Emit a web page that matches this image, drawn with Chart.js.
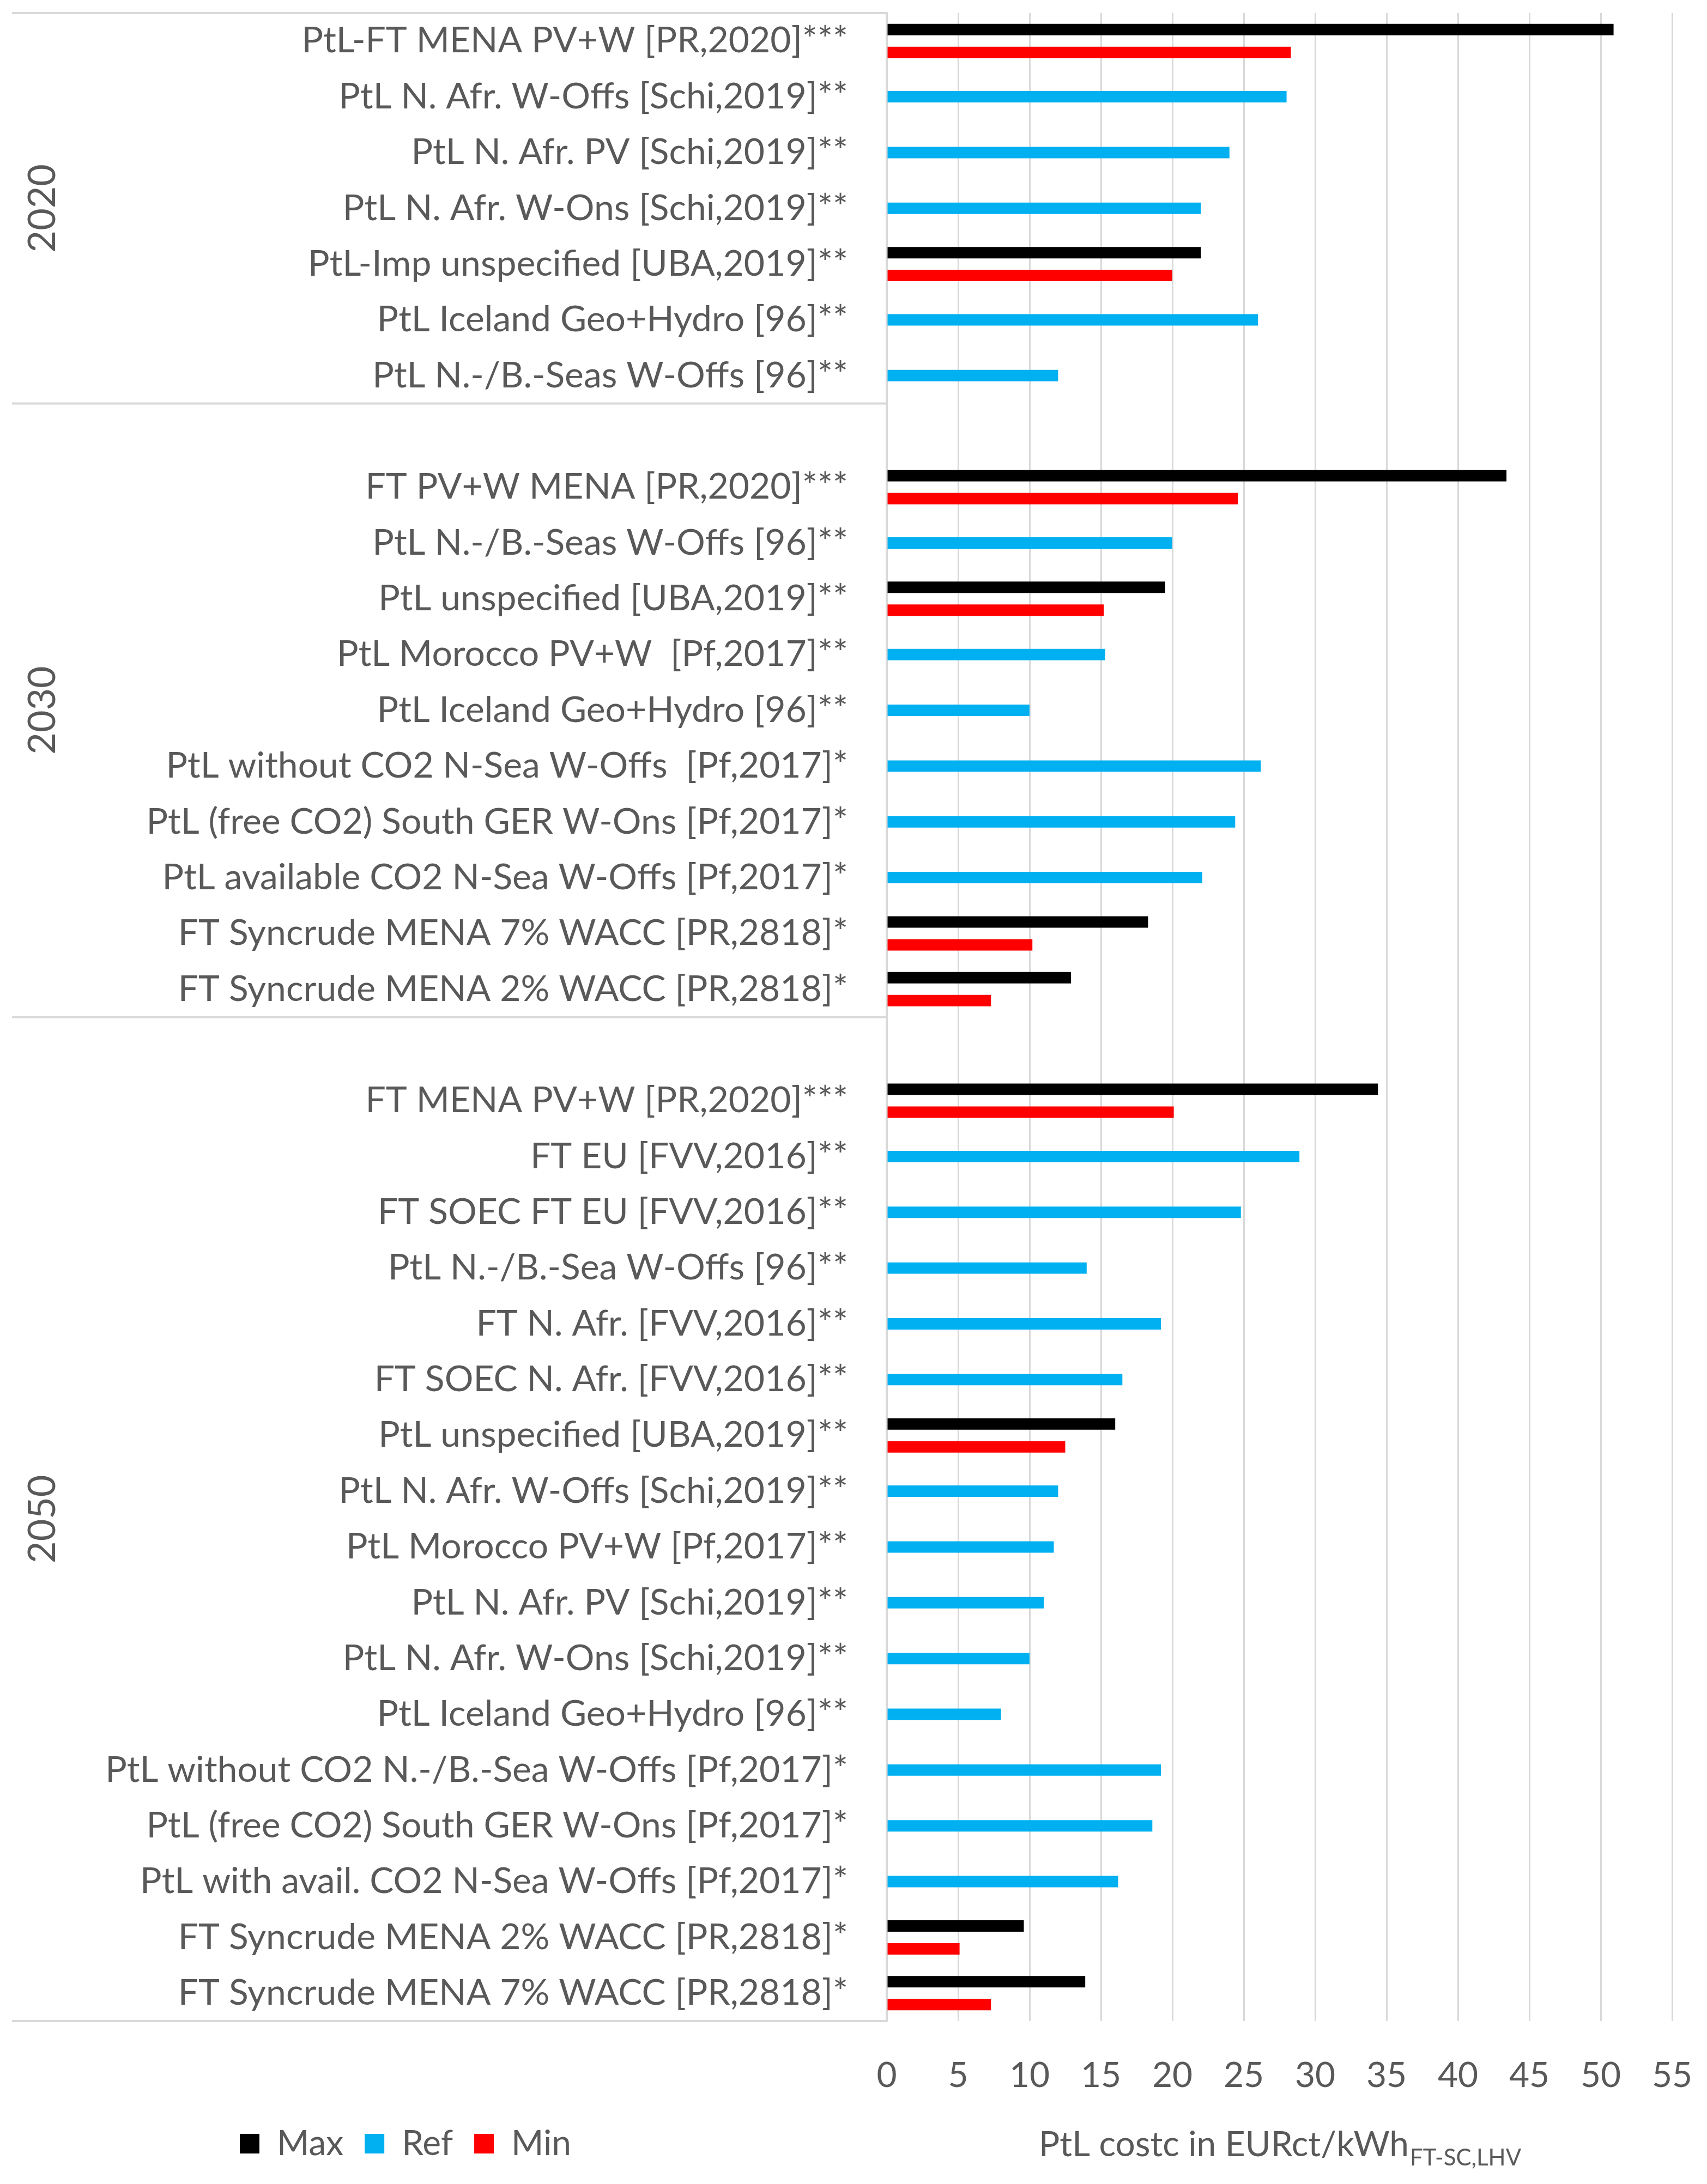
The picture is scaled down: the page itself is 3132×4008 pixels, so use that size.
<!DOCTYPE html>
<html><head><meta charset="utf-8">
<script src="https://cdn.jsdelivr.net/npm/chart.js@4"></script>
<style>html,body{margin:0;padding:0;background:#fff;}#wrap{width:3132px;height:4008px;}</style>
</head><body><div id="wrap"><canvas id="c" width="3132" height="4008"></canvas></div>
<script>
const categories = [
 'PtL-FT MENA PV+W [PR,2020]***',
 'PtL N. Afr. W-Offs [Schi,2019]**',
 'PtL N. Afr. PV [Schi,2019]**',
 'PtL N. Afr. W-Ons [Schi,2019]**',
 'PtL-Imp unspecified [UBA,2019]**',
 'PtL Iceland Geo+Hydro [96]**',
 'PtL N.-/B.-Seas W-Offs [96]**',
 '',
 'FT PV+W MENA [PR,2020]***',
 'PtL N.-/B.-Seas W-Offs [96]**',
 'PtL unspecified [UBA,2019]**',
 'PtL Morocco PV+W  [Pf,2017]**',
 'PtL Iceland Geo+Hydro [96]**',
 'PtL without CO2 N-Sea W-Offs  [Pf,2017]*',
 'PtL (free CO2) South GER W-Ons [Pf,2017]*',
 'PtL available CO2 N-Sea W-Offs [Pf,2017]*',
 'FT Syncrude MENA 7% WACC [PR,2818]*',
 'FT Syncrude MENA 2% WACC [PR,2818]*',
 '',
 'FT MENA PV+W [PR,2020]***',
 'FT EU [FVV,2016]**',
 'FT SOEC FT EU [FVV,2016]**',
 'PtL N.-/B.-Sea W-Offs [96]**',
 'FT N. Afr. [FVV,2016]**',
 'FT SOEC N. Afr. [FVV,2016]**',
 'PtL unspecified [UBA,2019]**',
 'PtL N. Afr. W-Offs [Schi,2019]**',
 'PtL Morocco PV+W [Pf,2017]**',
 'PtL N. Afr. PV [Schi,2019]**',
 'PtL N. Afr. W-Ons [Schi,2019]**',
 'PtL Iceland Geo+Hydro [96]**',
 'PtL without CO2 N.-/B.-Sea W-Offs [Pf,2017]*',
 'PtL (free CO2) South GER W-Ons [Pf,2017]*',
 'PtL with avail. CO2 N-Sea W-Offs [Pf,2017]*',
 'FT Syncrude MENA 2% WACC [PR,2818]*',
 'FT Syncrude MENA 7% WACC [PR,2818]*'
];
const groupLabels = ['2020', '2030', '2050'];
const groupRowCounts = [7, 11, 18];

const maxValues = [
 50.9, null, null, null, 22.0, null, null,
 null,
 43.4, null, 19.5, null, null, null, null, null, 18.3, 12.9,
 null,
 34.4, null, null, null, null, null, 16.0, null, null, null, null, null, null, null, null, 9.6, 13.9
];
const refValues = [
 null, 28.0, 24.0, 22.0, null, 26.0, 12.0,
 null,
 null, 20.0, null, 15.3, 10.0, 26.2, 24.4, 22.1, null, null,
 null,
 null, 28.9, 24.8, 14.0, 19.2, 16.5, null, 12.0, 11.7, 11.0, 10.0, 8.0, 19.2, 18.6, 16.2, null, null
];
const minValues = [
 28.3, null, null, null, 20.0, null, null,
 null,
 24.6, null, 15.2, null, null, null, null, null, 10.2, 7.3,
 null,
 20.1, null, null, null, null, null, 12.5, null, null, null, null, null, null, null, null, 5.1, 7.3
];
const xTickMin = 0, xTickMax = 55, xTickStep = 5;
const axisTitleMain = 'PtL costc in EURct/kWh';
const axisTitleSub = 'FT-SC,LHV';

const FONT = 'Lato';
const TEXT = '#595959';
const LINE = '#d9d9d9';

const groupPlugin = {
  id: 'groupAxis',
  afterLayout(chart) {
    const lg = chart.legend;
    if (lg) { lg.left = 401; }
  },
  afterDraw(chart) {
    const {ctx, chartArea, scales} = chart;
    const y = scales.y;
    const n = categories.length;
    const boundary = (i) => {
      if (i <= 0) return y.top;
      if (i >= n) return y.bottom;
      return (y.getPixelForValue(i - 1) + y.getPixelForValue(i)) / 2;
    };
    ctx.save();
    ctx.strokeStyle = LINE;
    ctx.lineWidth = 4;
    let start = 0;
    const bounds = [0];
    groupRowCounts.forEach(c => { start += c; bounds.push(start); });
    bounds.forEach(b => {
      const py = boundary(b);
      ctx.beginPath();
      ctx.moveTo(22, py);
      ctx.lineTo(chartArea.left, py);
      ctx.stroke();
    });
    ctx.fillStyle = TEXT;
    ctx.font = '70px ' + FONT;
    ctx.textAlign = 'center';
    ctx.textBaseline = 'middle';
    groupLabels.forEach((g, k) => {
      const mid = (boundary(bounds[k]) + boundary(bounds[k + 1])) / 2;
      ctx.save();
      ctx.translate(78, mid);
      ctx.rotate(-Math.PI / 2);
      ctx.fillText(g, 0, 0);
      ctx.restore();
    });
    // axis title with subscript
    const lg = chart.legend;
    let cy = 3934;
    if (lg && lg.legendHitBoxes && lg.legendHitBoxes[0]) {
      cy = lg.top + lg.options.labels.padding + lg.legendHitBoxes[0].height / 2;
    }
    const mainFont = '64px ' + FONT;
    const subFont = '42px ' + FONT;
    ctx.font = mainFont;
    const wMain = ctx.measureText(axisTitleMain).width;
    ctx.font = subFont;
    const wSub = ctx.measureText(axisTitleSub).width;
    const cx = (chartArea.left + chartArea.right) / 2;
    const x0 = cx - (wMain + wSub) / 2;
    ctx.textAlign = 'left';
    ctx.textBaseline = 'alphabetic';
    ctx.font = mainFont;
    ctx.fillText(axisTitleMain, x0, cy + 23);
    ctx.font = subFont;
    ctx.fillText(axisTitleSub, x0 + wMain + 2, cy + 40);
    ctx.restore();
  }
};

new Chart(document.getElementById('c'), {
  type: 'bar',
  data: {
    labels: categories,
    datasets: [
      {label: 'Max', data: maxValues, backgroundColor: '#000000'},
      {label: 'Ref', data: refValues, backgroundColor: '#00B0F0'},
      {label: 'Min', data: minValues, backgroundColor: '#FF0000'}
    ]
  },
  options: {
    indexAxis: 'y',
    responsive: false,
    animation: false,
    devicePixelRatio: 1,
    categoryPercentage: 0.615,
    barPercentage: 1,
    layout: {padding: {top: 24, right: 64, left: 0, bottom: 32}},
    scales: {
      x: {
        min: xTickMin, max: xTickMax,
        ticks: {stepSize: xTickStep, font: {family: FONT, size: 64}, color: TEXT, padding: 62, maxRotation: 0},
        grid: {color: LINE, lineWidth: 3, drawTicks: false},
        border: {display: false},
        afterFit(s) { s.height = 154; s.paddingLeft = 0; s.paddingRight = 0; }
      },
      y: {
        ticks: {font: {family: FONT, size: 66}, color: TEXT, padding: 71, autoSkip: false},
        grid: {display: false, drawTicks: false},
        border: {color: LINE, width: 4},
        afterFit(s) { s.width = 1627; s.paddingTop = 0; s.paddingBottom = 0; }
      }
    },
    plugins: {
      legend: {
        position: 'bottom', align: 'start',
        labels: {boxWidth: 36, boxHeight: 36, padding: 39, font: {family: FONT, size: 64}, color: TEXT}
      },
      tooltip: {enabled: false}
    }
  },
  plugins: [groupPlugin]
});
</script></body></html>
